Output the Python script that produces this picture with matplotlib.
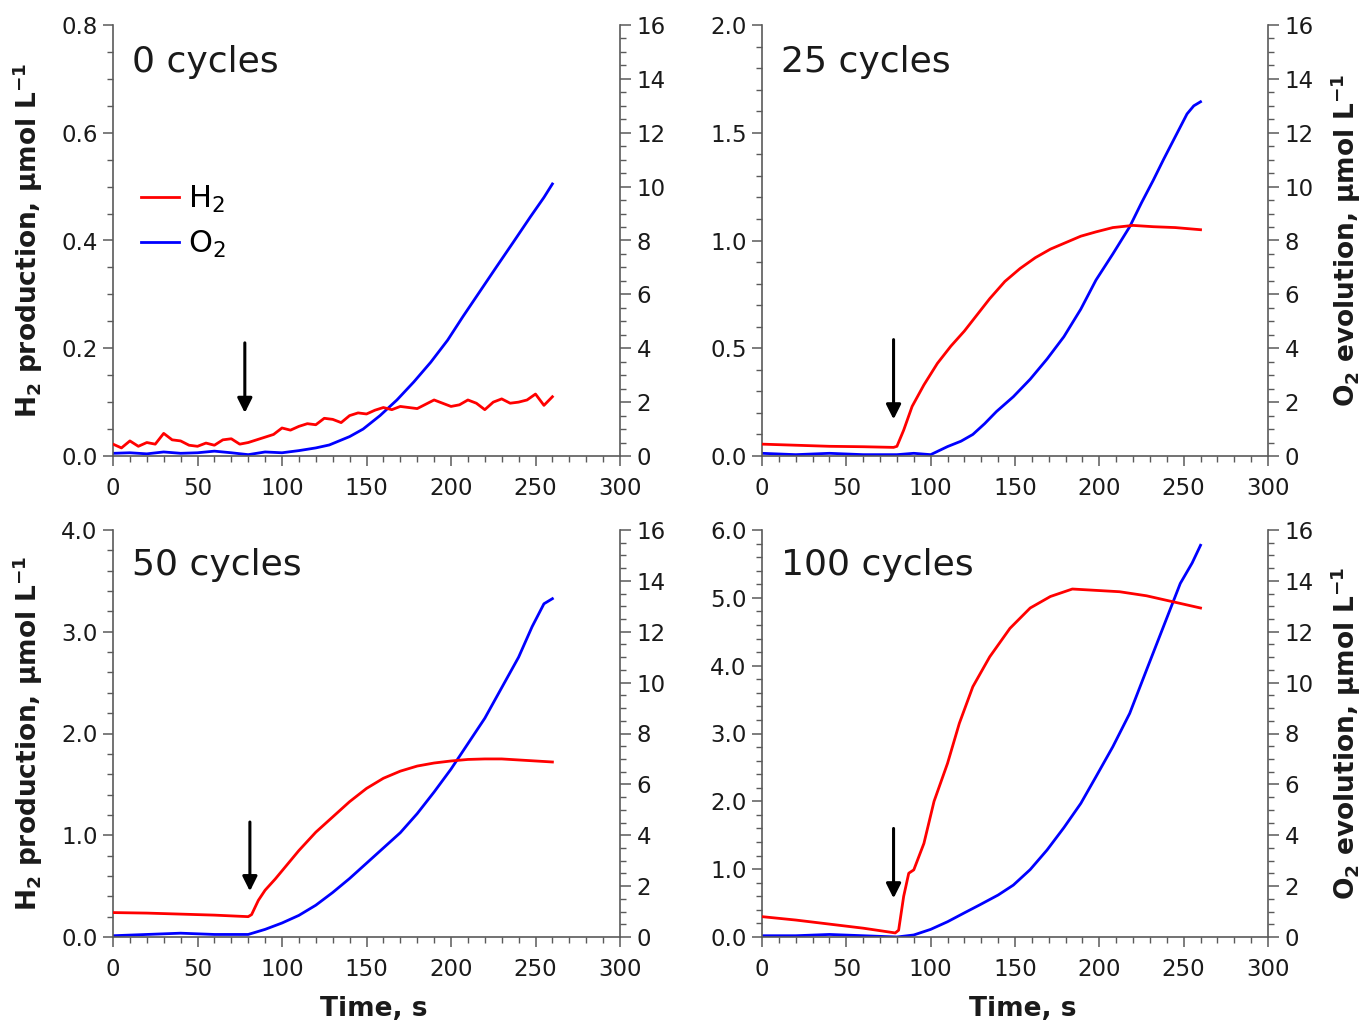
import numpy as np
import matplotlib
matplotlib.use("Agg")
import matplotlib.pyplot as plt
from matplotlib.ticker import MultipleLocator
from matplotlib.lines import Line2D

plt.rcParams['font.family'] = ['DejaVu Sans']
plt.rcParams['mathtext.fontset'] = 'dejavusans'

# ---------------- data ----------------
titles = ["0 cycles", "25 cycles", "50 cycles", "100 cycles"]
h2_ylim = [0.8, 2.0, 4.0, 6.0]
h2_major = [0.2, 0.5, 1.0, 1.0]
h2_minor = [0.05, 0.1, 0.2, 0.2]

# 0 cycles
h2_0 = [0.022, 0.015, 0.028, 0.018, 0.025, 0.022, 0.042, 0.030, 0.028, 0.020,
        0.018, 0.024, 0.020, 0.030, 0.032, 0.022, 0.025, 0.030, 0.035, 0.040,
        0.052, 0.048, 0.055, 0.060, 0.058, 0.070, 0.068, 0.062, 0.075, 0.080,
        0.078, 0.085, 0.090, 0.086, 0.092, 0.090, 0.088, 0.096, 0.104, 0.098,
        0.092, 0.095, 0.104, 0.098, 0.086, 0.100, 0.106, 0.098, 0.100, 0.104,
        0.115, 0.094, 0.110]
t_h2_0 = list(np.arange(0, 5 * len(h2_0), 5))
t_o2_0 = [0, 10, 20, 30, 40, 50, 60, 70, 80, 90, 100, 110, 120, 128, 140, 148,
          158, 168, 178, 188, 198, 207, 217, 227, 237, 247, 255, 260]
o2_0 = [0.1, 0.12, 0.08, 0.15, 0.1, 0.12, 0.18, 0.12, 0.05, 0.15, 0.12, 0.2, 0.3,
        0.41, 0.72, 1.0, 1.5, 2.08, 2.75, 3.48, 4.3, 5.17, 6.1, 7.03, 7.95, 8.88,
        9.6, 10.1]

# 25 cycles
t_h2_25 = [0, 20, 40, 60, 78, 80, 84, 89, 96, 104, 112, 120, 128, 135, 144, 153,
           162, 171, 180, 189, 198, 208, 220, 232, 245, 260]
h2_25 = [0.055, 0.05, 0.045, 0.043, 0.04, 0.045, 0.12, 0.23, 0.33, 0.43, 0.51,
         0.58, 0.66, 0.73, 0.81, 0.87, 0.92, 0.96, 0.99, 1.02, 1.04, 1.06, 1.07,
         1.064, 1.06, 1.05]
t_o2_25 = [0, 20, 40, 60, 80, 90, 100, 110, 118, 125, 132, 139, 149, 159, 169,
           179, 189, 198, 208, 218, 225, 232, 238, 244, 252, 256, 260]
o2_25 = [0.1, 0.05, 0.1, 0.05, 0.05, 0.1, 0.05, 0.35, 0.55, 0.8, 1.2, 1.65, 2.2,
         2.85, 3.6, 4.43, 5.45, 6.53, 7.5, 8.51, 9.4, 10.24, 11.0, 11.73, 12.7,
         13.0, 13.15]

# 50 cycles
t_h2_50 = [0, 20, 40, 60, 80, 82, 86, 90, 96, 102, 110, 120, 130, 140, 150, 160,
           170, 180, 190, 200, 210, 220, 230, 240, 250, 260]
h2_50 = [0.24, 0.235, 0.225, 0.215, 0.2, 0.22, 0.36, 0.46, 0.57, 0.69, 0.85,
         1.03, 1.18, 1.33, 1.46, 1.56, 1.63, 1.68, 1.71, 1.73, 1.745, 1.75, 1.75,
         1.74, 1.73, 1.72]
t_o2_50 = [0, 20, 40, 60, 80, 90, 100, 110, 120, 130, 140, 150, 160, 170, 180,
           190, 200, 210, 220, 230, 240, 248, 255, 260]
o2_50 = [0.05, 0.1, 0.15, 0.1, 0.1, 0.3, 0.55, 0.85, 1.25, 1.75, 2.3, 2.9, 3.5,
         4.1, 4.85, 5.7, 6.6, 7.6, 8.6, 9.8, 11.0, 12.2, 13.1, 13.3]

# 100 cycles
t_h2_100 = [0, 20, 40, 60, 79, 81, 84, 87, 90, 96, 102, 110, 117, 125, 135, 147,
            159, 171, 184, 198, 212, 228, 244, 260]
h2_100 = [0.3, 0.25, 0.19, 0.13, 0.06, 0.1, 0.6, 0.94, 0.99, 1.38, 2.0, 2.56,
          3.15, 3.69, 4.13, 4.55, 4.85, 5.02, 5.13, 5.11, 5.09, 5.03, 4.94, 4.85]
t_o2_100 = [0, 20, 40, 60, 80, 90, 100, 110, 120, 129, 140, 149, 159, 169, 179,
            189, 198, 208, 218, 228, 238, 248, 255, 260]
o2_100 = [0.05, 0.05, 0.1, 0.05, 0.0, 0.08, 0.3, 0.6, 0.95, 1.26, 1.65, 2.04,
          2.65, 3.42, 4.3, 5.25, 6.3, 7.48, 8.79, 10.5, 12.2, 13.9, 14.7, 15.4]

t_h2 = [t_h2_0, t_h2_25, t_h2_50, t_h2_100]
h2 = [h2_0, h2_25, h2_50, h2_100]
t_o2 = [t_o2_0, t_o2_25, t_o2_50, t_o2_100]
o2 = [o2_0, o2_25, o2_50, o2_100]

# arrows marking light on (time, top value, tip value) on H2 axis
arrow_t = [78, 78, 81, 78]
arrow_top = [0.21, 0.54, 1.13, 1.6]
arrow_tip = [0.08, 0.17, 0.45, 0.57]

# ---------------- figure ----------------
W, H = 1363, 1027
fig = plt.figure(figsize=(W / 100, H / 100), dpi=100)

def frac_rect(x0, y0, x1, y1):
    return [x0 / W, 1 - y1 / H, (x1 - x0) / W, (y1 - y0) / H]

rects = [frac_rect(113, 25, 620, 456), frac_rect(762, 25, 1268, 456),
         frac_rect(113, 530, 620, 937), frac_rect(762, 530, 1268, 937)]

spine_c = '#5a5a5a'
txt_c = '#1a1a1a'
tick_fs = 16.5
lab_fs = 19

ylab = r"H$_\mathbf{2}$ production, μmol L$^\mathbf{-1}$"
ylab_r = r"O$_\mathbf{2}$ evolution, μmol L$^\mathbf{-1}$"

for i in range(4):
    ax = fig.add_axes(rects[i])
    tw = ax.twinx()
    ax.set_zorder(tw.get_zorder() + 1)
    ax.patch.set_visible(False)

    ax.plot(t_h2[i], h2[i], color='#ff0000', lw=2.0, zorder=3)
    tw.plot(t_o2[i], o2[i], color='#0000ff', lw=2.0)

    ax.set_xlim(0, 300)
    ax.set_ylim(0, h2_ylim[i])
    tw.set_ylim(0, 16)

    ax.xaxis.set_major_locator(MultipleLocator(50))
    ax.xaxis.set_minor_locator(MultipleLocator(10))
    ax.yaxis.set_major_locator(MultipleLocator(h2_major[i]))
    ax.yaxis.set_minor_locator(MultipleLocator(h2_minor[i]))
    tw.yaxis.set_major_locator(MultipleLocator(2))
    tw.yaxis.set_minor_locator(MultipleLocator(0.5))
    ax.yaxis.set_major_formatter(plt.FuncFormatter(lambda v, p: f"{v:.1f}"))

    for a in (ax, tw):
        a.spines['top'].set_visible(False)
        for s in a.spines.values():
            s.set_color(spine_c)
            s.set_linewidth(1.2)
    ax.spines['right'].set_visible(False)
    tw.spines['left'].set_visible(False)
    tw.spines['bottom'].set_visible(False)

    ax.tick_params(axis='both', which='major', direction='out', length=7,
                   width=1.1, color=spine_c, labelsize=tick_fs, labelcolor=txt_c)
    ax.tick_params(axis='both', which='minor', direction='out', length=4,
                   width=1.0, color=spine_c)
    ax.tick_params(axis='x', which='major', pad=8)
    ax.tick_params(axis='y', which='major', pad=4)
    tw.tick_params(axis='y', which='major', direction='out', length=8,
                   width=1.1, color=spine_c, labelsize=tick_fs, labelcolor=txt_c,
                   pad=4)
    tw.tick_params(axis='y', which='minor', direction='out', length=4.5,
                   width=1.0, color=spine_c)

    ax.text(0.037, 0.915, titles[i], transform=ax.transAxes, fontsize=26,
            color=txt_c, va='center', ha='left')

    ax.annotate('', xy=(arrow_t[i], arrow_tip[i]), xytext=(arrow_t[i], arrow_top[i]),
                arrowprops=dict(arrowstyle='-|>', color='black', lw=2.2,
                                mutation_scale=22, shrinkA=0, shrinkB=0),
                zorder=4)

    if i in (0, 2):
        ax.set_ylabel(ylab, fontsize=lab_fs, fontweight='bold', color=txt_c)
        ax.yaxis.set_label_coords(-0.134, 0.5)
    if i in (1, 3):
        tw.set_ylabel(ylab_r, fontsize=lab_fs, fontweight='bold', color=txt_c,
                      rotation=90)
        tw.yaxis.set_label_coords(1.12, 0.5)
    if i in (2, 3):
        ax.set_xlabel("Time, s", fontsize=lab_fs, fontweight='bold', color=txt_c)
        ax.xaxis.set_label_coords(0.515, -0.145)

    if i == 0:
        handles = [Line2D([], [], color='#ff0000', lw=2.0),
                   Line2D([], [], color='#0000ff', lw=2.0)]
        ax.legend(handles, [r"H$_2$", r"O$_2$"], loc='upper left',
                  bbox_to_anchor=(0.055, 0.632), frameon=False, fontsize=22,
                  handlelength=1.25, handletextpad=0.3, labelspacing=0.45,
                  borderpad=0, borderaxespad=0)

fig.savefig("out.png", dpi=100)
